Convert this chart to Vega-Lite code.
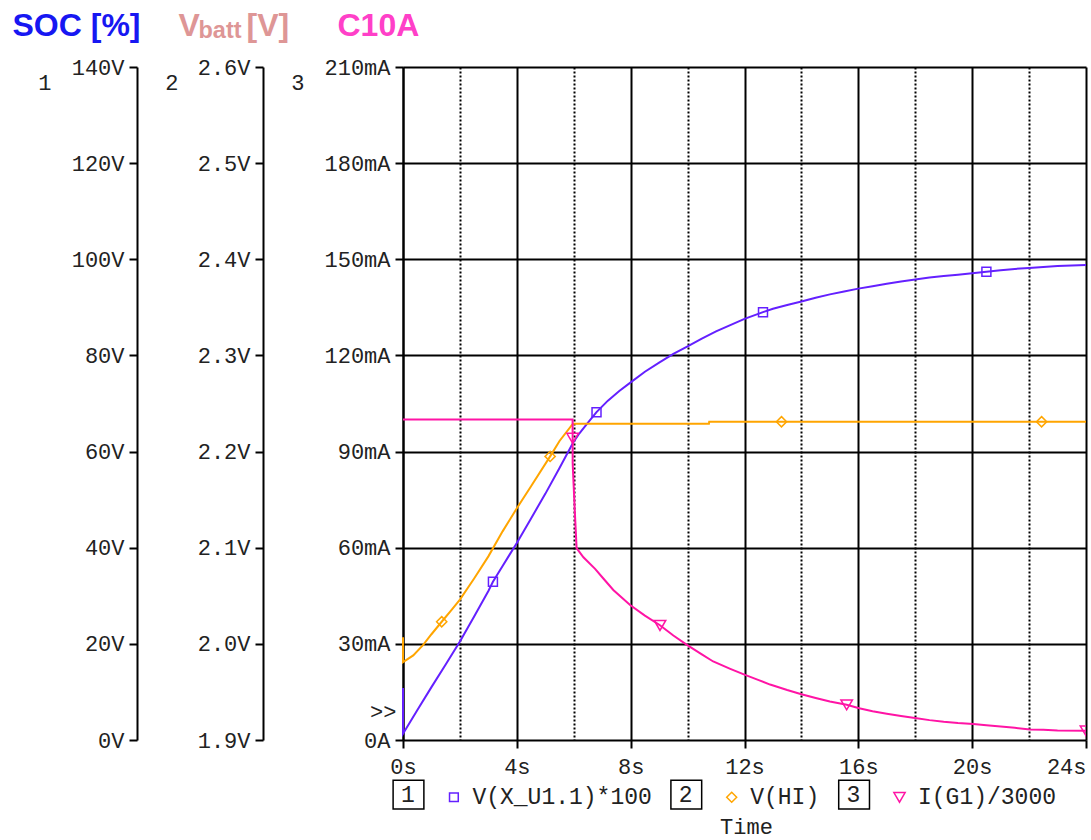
{
  "$schema": "https://vega.github.io/schema/vega-lite/v6.json",
  "width": 683,
  "height": 673,
  "autosize": {"type": "none"},
  "padding": {"left": 403, "top": 67, "right": 5, "bottom": 100},
  "background": "white",
  "config": {
    "view": {"stroke": null},
    "axis": {"labelFont": "Liberation Mono", "labelFontSize": 22, "labelColor": "#222", "labelOverlap": false, "labelFlush": false, "domainColor": "black", "domainWidth": 2, "tickColor": "black", "tickWidth": 2, "tickSize": 8, "gridColor": "black", "gridWidth": 2, "gridOpacity": 1}
  },
  "datasets": {
    "soc": [
      {"t": 0, "v": 10.8, "s": "V(X_U1.1)*100"},
      {"t": 0.001, "v": 1.3, "s": "V(X_U1.1)*100"},
      {"t": 0.5, "v": 6.2, "s": "V(X_U1.1)*100"},
      {"t": 1, "v": 11.0, "s": "V(X_U1.1)*100"},
      {"t": 1.5, "v": 15.7, "s": "V(X_U1.1)*100"},
      {"t": 2, "v": 20.5, "s": "V(X_U1.1)*100"},
      {"t": 2.5, "v": 25.7, "s": "V(X_U1.1)*100"},
      {"t": 3, "v": 31.0, "s": "V(X_U1.1)*100"},
      {"t": 3.16, "v": 32.9, "s": "V(X_U1.1)*100", "m": 1},
      {"t": 3.5, "v": 36.2, "s": "V(X_U1.1)*100"},
      {"t": 4, "v": 41.0, "s": "V(X_U1.1)*100"},
      {"t": 4.5, "v": 46.1, "s": "V(X_U1.1)*100"},
      {"t": 5, "v": 51.2, "s": "V(X_U1.1)*100"},
      {"t": 5.5, "v": 56.6, "s": "V(X_U1.1)*100"},
      {"t": 5.97, "v": 61.8, "s": "V(X_U1.1)*100"},
      {"t": 6.2, "v": 63.8, "s": "V(X_U1.1)*100"},
      {"t": 6.5, "v": 66.0, "s": "V(X_U1.1)*100"},
      {"t": 6.8, "v": 68.2, "s": "V(X_U1.1)*100", "m": 1},
      {"t": 7.2, "v": 70.6, "s": "V(X_U1.1)*100"},
      {"t": 7.6, "v": 72.6, "s": "V(X_U1.1)*100"},
      {"t": 8, "v": 74.4, "s": "V(X_U1.1)*100"},
      {"t": 8.5, "v": 76.6, "s": "V(X_U1.1)*100"},
      {"t": 9, "v": 78.5, "s": "V(X_U1.1)*100"},
      {"t": 9.5, "v": 80.3, "s": "V(X_U1.1)*100"},
      {"t": 10, "v": 81.9, "s": "V(X_U1.1)*100"},
      {"t": 10.5, "v": 83.5, "s": "V(X_U1.1)*100"},
      {"t": 11, "v": 85.0, "s": "V(X_U1.1)*100"},
      {"t": 11.5, "v": 86.3, "s": "V(X_U1.1)*100"},
      {"t": 12, "v": 87.6, "s": "V(X_U1.1)*100"},
      {"t": 12.65, "v": 89.0, "s": "V(X_U1.1)*100", "m": 1},
      {"t": 13, "v": 89.7, "s": "V(X_U1.1)*100"},
      {"t": 13.5, "v": 90.5, "s": "V(X_U1.1)*100"},
      {"t": 14, "v": 91.2, "s": "V(X_U1.1)*100"},
      {"t": 14.5, "v": 92.0, "s": "V(X_U1.1)*100"},
      {"t": 15, "v": 92.7, "s": "V(X_U1.1)*100"},
      {"t": 15.5, "v": 93.3, "s": "V(X_U1.1)*100"},
      {"t": 16, "v": 93.9, "s": "V(X_U1.1)*100"},
      {"t": 16.5, "v": 94.4, "s": "V(X_U1.1)*100"},
      {"t": 17, "v": 94.9, "s": "V(X_U1.1)*100"},
      {"t": 17.5, "v": 95.4, "s": "V(X_U1.1)*100"},
      {"t": 18, "v": 95.8, "s": "V(X_U1.1)*100"},
      {"t": 18.5, "v": 96.2, "s": "V(X_U1.1)*100"},
      {"t": 19, "v": 96.5, "s": "V(X_U1.1)*100"},
      {"t": 19.5, "v": 96.8, "s": "V(X_U1.1)*100"},
      {"t": 20, "v": 97.1, "s": "V(X_U1.1)*100"},
      {"t": 20.5, "v": 97.4, "s": "V(X_U1.1)*100", "m": 1},
      {"t": 21, "v": 97.7, "s": "V(X_U1.1)*100"},
      {"t": 21.5, "v": 98.0, "s": "V(X_U1.1)*100"},
      {"t": 22, "v": 98.2, "s": "V(X_U1.1)*100"},
      {"t": 22.5, "v": 98.4, "s": "V(X_U1.1)*100"},
      {"t": 23, "v": 98.6, "s": "V(X_U1.1)*100"},
      {"t": 23.5, "v": 98.7, "s": "V(X_U1.1)*100"},
      {"t": 24, "v": 98.8, "s": "V(X_U1.1)*100"}
    ],
    "vbatt": [
      {"t": 0, "v": 2.007, "s": "V(HI)"},
      {"t": 0.001, "v": 1.981, "s": "V(HI)"},
      {"t": 0.36, "v": 1.988, "s": "V(HI)"},
      {"t": 0.71, "v": 1.999, "s": "V(HI)"},
      {"t": 1.0, "v": 2.010, "s": "V(HI)"},
      {"t": 1.36, "v": 2.023, "s": "V(HI)", "m": 1},
      {"t": 1.7, "v": 2.035, "s": "V(HI)"},
      {"t": 2.0, "v": 2.046, "s": "V(HI)"},
      {"t": 2.5, "v": 2.068, "s": "V(HI)"},
      {"t": 3.0, "v": 2.091, "s": "V(HI)"},
      {"t": 3.5, "v": 2.117, "s": "V(HI)"},
      {"t": 4.0, "v": 2.141, "s": "V(HI)"},
      {"t": 4.5, "v": 2.164, "s": "V(HI)"},
      {"t": 5.17, "v": 2.195, "s": "V(HI)", "m": 1},
      {"t": 5.5, "v": 2.211, "s": "V(HI)"},
      {"t": 5.97, "v": 2.229, "s": "V(HI)"},
      {"t": 6.5, "v": 2.229, "s": "V(HI)"},
      {"t": 8, "v": 2.229, "s": "V(HI)"},
      {"t": 10.75, "v": 2.229, "s": "V(HI)"},
      {"t": 10.76, "v": 2.231, "s": "V(HI)"},
      {"t": 13.3, "v": 2.231, "s": "V(HI)", "m": 1},
      {"t": 18, "v": 2.231, "s": "V(HI)"},
      {"t": 22.44, "v": 2.231, "s": "V(HI)", "m": 1},
      {"t": 24, "v": 2.231, "s": "V(HI)"}
    ],
    "cur": [
      {"t": 0, "v": 100, "s": "I(G1)/3000"},
      {"t": 5.96, "v": 100, "s": "I(G1)/3000"},
      {"t": 5.961, "v": 94.2, "s": "I(G1)/3000", "m": 1},
      {"t": 5.962, "v": 86.4, "s": "I(G1)/3000"},
      {"t": 6.04, "v": 70.8, "s": "I(G1)/3000"},
      {"t": 6.1, "v": 59.9, "s": "I(G1)/3000"},
      {"t": 6.34, "v": 57.0, "s": "I(G1)/3000"},
      {"t": 6.75, "v": 53.4, "s": "I(G1)/3000"},
      {"t": 7.04, "v": 50.4, "s": "I(G1)/3000"},
      {"t": 7.39, "v": 46.8, "s": "I(G1)/3000"},
      {"t": 7.98, "v": 42.1, "s": "I(G1)/3000"},
      {"t": 8.5, "v": 38.8, "s": "I(G1)/3000"},
      {"t": 9.03, "v": 35.8, "s": "I(G1)/3000", "m": 1},
      {"t": 9.5, "v": 32.6, "s": "I(G1)/3000"},
      {"t": 9.99, "v": 29.6, "s": "I(G1)/3000"},
      {"t": 10.5, "v": 26.7, "s": "I(G1)/3000"},
      {"t": 10.9, "v": 24.5, "s": "I(G1)/3000"},
      {"t": 11.5, "v": 22.2, "s": "I(G1)/3000"},
      {"t": 12.02, "v": 20.3, "s": "I(G1)/3000"},
      {"t": 12.5, "v": 18.7, "s": "I(G1)/3000"},
      {"t": 12.9, "v": 17.3, "s": "I(G1)/3000"},
      {"t": 13.5, "v": 15.6, "s": "I(G1)/3000"},
      {"t": 14, "v": 14.3, "s": "I(G1)/3000"},
      {"t": 14.5, "v": 13.1, "s": "I(G1)/3000"},
      {"t": 15, "v": 12.0, "s": "I(G1)/3000"},
      {"t": 15.59, "v": 11.0, "s": "I(G1)/3000", "m": 1},
      {"t": 16.03, "v": 9.9, "s": "I(G1)/3000"},
      {"t": 16.5, "v": 9.0, "s": "I(G1)/3000"},
      {"t": 17, "v": 8.2, "s": "I(G1)/3000"},
      {"t": 17.5, "v": 7.5, "s": "I(G1)/3000"},
      {"t": 18.05, "v": 6.8, "s": "I(G1)/3000"},
      {"t": 18.5, "v": 6.2, "s": "I(G1)/3000"},
      {"t": 19, "v": 5.7, "s": "I(G1)/3000"},
      {"t": 19.5, "v": 5.3, "s": "I(G1)/3000"},
      {"t": 20.04, "v": 5.0, "s": "I(G1)/3000"},
      {"t": 20.5, "v": 4.6, "s": "I(G1)/3000"},
      {"t": 21, "v": 4.2, "s": "I(G1)/3000"},
      {"t": 21.5, "v": 3.8, "s": "I(G1)/3000"},
      {"t": 22.03, "v": 3.3, "s": "I(G1)/3000"},
      {"t": 22.5, "v": 3.2, "s": "I(G1)/3000"},
      {"t": 23, "v": 3.0, "s": "I(G1)/3000"},
      {"t": 24, "v": 2.9, "s": "I(G1)/3000", "m": 1}
    ]
  },
  "layer": [
    {
      "data": {"name": "soc"},
      "layer": [
        {
          "mark": {"type": "line", "strokeWidth": 2},
          "encoding": {
            "x": {"field": "t", "type": "quantitative", "scale": {"domain": [0, 24], "nice": false, "zero": false},
              "axis": {"orient": "bottom", "values": [0, 4, 8, 12, 16, 20, 24], "labelExpr": "datum.value + 's'", "grid": true, "domain": false, "ticks": true, "labelPadding": 8,
                "labelAlign": {"condition": {"test": "datum.value == 24", "value": "right"}, "value": "center"},
                "title": "Time", "titleFont": "Liberation Mono", "titleFontSize": 22, "titleFontWeight": "normal", "titleColor": "#222", "titleX": 343, "titleY": 93, "titleAlign": "center", "titleBaseline": "alphabetic"}},
            "y": {"field": "v", "type": "quantitative", "scale": {"domain": [0, 140], "nice": false, "zero": false},
              "axis": {"orient": "left", "offset": 266, "values": [0, 20, 40, 60, 80, 100, 120, 140, 136.8], "grid": false,
                "labelExpr": "datum.value == 136.8 ? '1' : datum.value + 'V'",
                "tickOpacity": {"condition": {"test": "datum.value == 136.8", "value": 0}, "value": 1},
                "labelPadding": {"condition": {"test": "datum.value == 136.8", "value": 78}, "value": 5},
                "title": "SOC [%]", "titleFont": "Liberation Sans", "titleFontSize": 32, "titleFontWeight": "bold", "titleColor": "#1717F2", "titleAngle": 0, "titleAlign": "left", "titleBaseline": "alphabetic", "titleX": -125, "titleY": -32}},
            "color": {"field": "s", "type": "nominal",
              "scale": {"domain": ["1", "V(X_U1.1)*100", "2", "V(HI)", "3", "I(G1)/3000"], "range": ["#000000", "#6420FF", "#000000", "#FFA500", "#000000", "#FF14A5"]},
              "legend": {"orient": "none", "legendX": -13, "legendY": 716, "direction": "horizontal", "columns": 6, "title": null, "padding": 0, "symbolSize": 156, "symbolStrokeWidth": 1.5, "columnPadding": 15.4, "labelOffset": 0, "labelFont": "Liberation Mono", "labelFontSize": 23, "labelColor": "#222", "labelLimit": 600,
                "encode": {"labels": {"update": {"dx": {"signal": "length(datum.label) == 1 ? -12 : 7"}}}, "symbols": {"update": {"size": {"value": 156}}}}}}
          }
        },
        {
          "transform": [{"filter": "datum.m == 1"}],
          "mark": {"type": "point", "filled": false, "size": 164, "strokeWidth": 1.5, "opacity": 1},
          "encoding": {
            "x": {"field": "t", "type": "quantitative"},
            "y": {"field": "v", "type": "quantitative"},
            "color": {"field": "s", "type": "nominal"},
            "shape": {"field": "s", "type": "nominal",
              "scale": {"domain": ["1", "V(X_U1.1)*100", "2", "V(HI)", "3", "I(G1)/3000"],
                "range": ["M-1.344,-2.3H3.584V2.3H-1.344Z", "M-0.7,-0.7H0.7V0.7H-0.7Z", "M-1.344,-2.3H3.584V2.3H-1.344Z", "M0,-0.8L0.8,0L0,0.8L-0.8,0Z", "M-1.344,-2.3H3.584V2.3H-1.344Z", "M-0.9,-0.75L0.9,-0.75L0,0.8Z"]},
              "legend": {"orient": "none", "legendX": -13, "legendY": 716, "direction": "horizontal", "columns": 6, "title": null, "padding": 0, "symbolSize": 156, "symbolStrokeWidth": 1.5, "columnPadding": 15.4, "labelOffset": 0, "labelFont": "Liberation Mono", "labelFontSize": 23, "labelColor": "#222", "labelLimit": 600,
                "encode": {"labels": {"update": {"dx": {"signal": "length(datum.label) == 1 ? -12 : 7"}}}, "symbols": {"update": {"size": {"value": 156}}}}}}
          }
        }
      ]
    },
    {
      "data": {"name": "vbatt"},
      "layer": [
        {
          "mark": {"type": "line", "strokeWidth": 2},
          "encoding": {
            "x": {"field": "t", "type": "quantitative", "scale": {"domain": [0, 24], "nice": false, "zero": false},
              "axis": {"orient": "bottom", "values": [2, 6, 10, 14, 18, 22], "grid": true, "gridDash": [2, 2], "labels": false, "ticks": false, "domain": false,
                "title": "V", "titleFont": "Liberation Sans", "titleFontSize": 32, "titleFontWeight": "bold", "titleColor": "#DE9696", "titleAlign": "left", "titleBaseline": "alphabetic", "titleX": -225, "titleY": -705}},
            "y": {"field": "v", "type": "quantitative", "scale": {"domain": [1.9, 2.6], "nice": false, "zero": false},
              "axis": {"orient": "left", "offset": 140, "values": [1.9, 2, 2.1, 2.2, 2.3, 2.4, 2.5, 2.6, 2.584], "grid": false,
                "labelExpr": "datum.value == 2.584 ? '2' : format(datum.value, '.1f') + 'V'",
                "tickOpacity": {"condition": {"test": "datum.value == 2.584", "value": 0}, "value": 1},
                "labelPadding": {"condition": {"test": "datum.value == 2.584", "value": 77}, "value": 5},
                "title": "[V]", "titleFont": "Liberation Sans", "titleFontSize": 32, "titleFontWeight": "bold", "titleColor": "#DE9696", "titleAngle": 0, "titleAlign": "left", "titleBaseline": "alphabetic", "titleX": -17, "titleY": -32}},
            "color": {"field": "s", "type": "nominal"}
          }
        },
        {
          "transform": [{"filter": "datum.m == 1"}],
          "mark": {"type": "point", "filled": false, "size": 164, "strokeWidth": 1.5, "opacity": 1},
          "encoding": {
            "x": {"field": "t", "type": "quantitative"},
            "y": {"field": "v", "type": "quantitative"},
            "color": {"field": "s", "type": "nominal"},
            "shape": {"field": "s", "type": "nominal"}
          }
        }
      ]
    },
    {
      "data": {"name": "cur"},
      "layer": [
        {
          "mark": {"type": "line", "strokeWidth": 2},
          "encoding": {
            "x": {"field": "t", "type": "quantitative", "scale": {"domain": [0, 24], "nice": false, "zero": false},
              "axis": {"orient": "bottom", "grid": false, "labels": false, "ticks": false, "domain": false,
                "title": "batt", "titleFont": "Liberation Sans", "titleFontSize": 23.5, "titleFontWeight": "bold", "titleColor": "#DE9696", "titleAlign": "left", "titleBaseline": "alphabetic", "titleX": -205, "titleY": -703}},
            "y": {"field": "v", "type": "quantitative", "scale": {"domain": [0, 210], "nice": false, "zero": false},
              "axis": {"orient": "left", "offset": 0, "values": [0, 30, 60, 90, 120, 150, 180, 210, 8.74, 205.1], "grid": true,
                "labelExpr": "datum.value == 8.74 ? '>>' : datum.value == 205.1 ? '3' : datum.value == 0 ? '0A' : datum.value + 'mA'",
                "tickOpacity": {"condition": {"test": "datum.value == 8.74 || datum.value == 205.1", "value": 0}, "value": 1},
                "gridOpacity": {"condition": {"test": "datum.value == 8.74 || datum.value == 205.1", "value": 0}, "value": 1},
                "labelPadding": {"condition": [{"test": "datum.value == 205.1", "value": 91}, {"test": "datum.value == 8.74", "value": -1}], "value": 5},
                "title": "C10A", "titleFont": "Liberation Sans", "titleFontSize": 32, "titleFontWeight": "bold", "titleColor": "#FF40C8", "titleAngle": 0, "titleAlign": "left", "titleBaseline": "alphabetic", "titleX": -66, "titleY": -32}},
            "color": {"field": "s", "type": "nominal"}
          }
        },
        {
          "transform": [{"filter": "datum.m == 1"}],
          "mark": {"type": "point", "filled": false, "size": 164, "strokeWidth": 1.5, "opacity": 1, "clip": true},
          "encoding": {
            "x": {"field": "t", "type": "quantitative"},
            "y": {"field": "v", "type": "quantitative"},
            "color": {"field": "s", "type": "nominal"},
            "shape": {"field": "s", "type": "nominal"}
          }
        }
      ]
    }
  ],
  "resolve": {"scale": {"x": "independent", "y": "independent"}}
}
